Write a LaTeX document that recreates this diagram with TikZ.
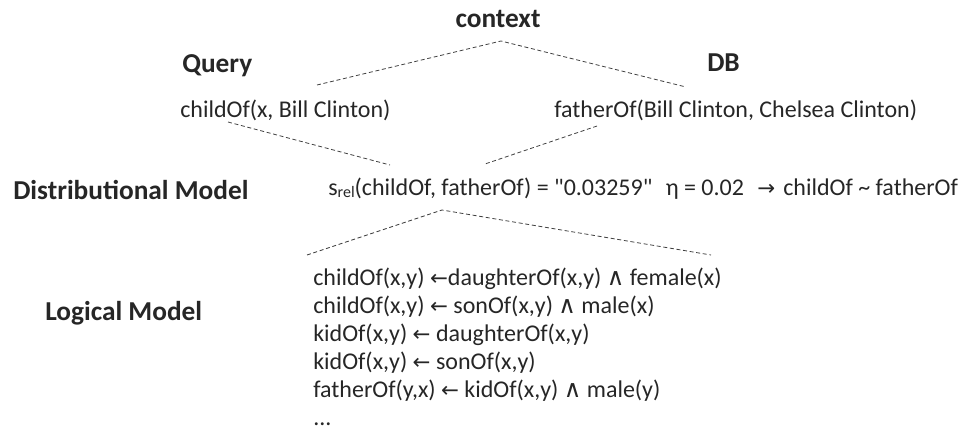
\documentclass[tikz,border=0pt]{standalone}
\usepackage{fontspec}
\setmainfont{Carlito}
\newfontfamily\symfont{DejaVu Sans}
\newcommand{\lArr}{{\symfont\fontsize{16}{18}\selectfont ←}}
\newcommand{\rArr}{{\symfont\fontsize{16}{18}\selectfont →}}
\newcommand{\lAnd}{{\symfont\fontsize{18}{18}\selectfont ∧}}
\begin{document}
\begin{tikzpicture}[x=0.75pt,y=-0.75pt,
  head/.style={font=\fontsize{20.5}{24}\selectfont\bfseries, text=black!85, inner sep=0, anchor=base west},
  txt/.style={font=\fontsize{18}{18}\selectfont, text=black!85, inner sep=0, anchor=base west},
  link/.style={dash pattern=on 3pt off 2pt, line width=0.6pt, black!75}]
\useasboundingbox (0,0) rectangle (968,432);

% headings
\node[head, anchor=base] (ctx) at (498,27) {context};
\node[head] (query) at (182,72) {Query};
\node[head] (db) at (707,71) {DB};
\node[head] (dm) at (13,199) {Distributional Model};
\node[head] (lm) at (45,320) {Logical Model};

% query and database facts
\node[txt] (q) at (180,117) {childOf(x, Bill Clinton)};
\node[txt] (f) at (554,117) {fatherOf(Bill Clinton, Chelsea Clinton)};

% distributional similarity
\node[txt] (srel) at (328,195) {s{\fontsize{12}{12}\selectfont\raisebox{-2pt}{rel}}(childOf, fatherOf) = \textquotedbl 0.03259\textquotedbl\hspace{10pt}η = 0.02\hspace{10pt}\rArr\hspace{6pt}childOf \textasciitilde{} fatherOf};

% logical rules
\node[txt] (r1) at (313,285) {childOf(x,y) \lArr daughterOf(x,y) \lAnd{} female(x)};
\node[txt] (r2) at (313,313) {childOf(x,y) \lArr{} sonOf(x,y) \lAnd{} male(x)};
\node[txt] (r3) at (313,341) {kidOf(x,y) \lArr{} daughterOf(x,y)};
\node[txt] (r4) at (313,369) {kidOf(x,y) \lArr{} sonOf(x,y)};
\node[txt] (r5) at (313,397) {fatherOf(y,x) \lArr{} kidOf(x,y) \lAnd{} male(y)};
\node[txt] (r6) at (313,425) {...};

% dashed links between the levels
\coordinate (ctxtip) at (501,41);
\coordinate (ctxl) at (317,85);
\coordinate (ctxr) at (686,87);
\coordinate (ql) at (228,122);
\coordinate (qr) at (390,165);
\coordinate (fr) at (597,126);
\coordinate (fl) at (485,164);
\coordinate (dtip) at (442,210);
\coordinate (dl) at (307,255);
\coordinate (dr) at (711,255);

\draw[link] (ctxl) -- (ctxtip) -- (ctxr);
\draw[link] (ql) -- (qr);
\draw[link] (fr) -- (fl);
\draw[link] (dl) -- (dtip) -- (dr);
\end{tikzpicture}
\end{document}
